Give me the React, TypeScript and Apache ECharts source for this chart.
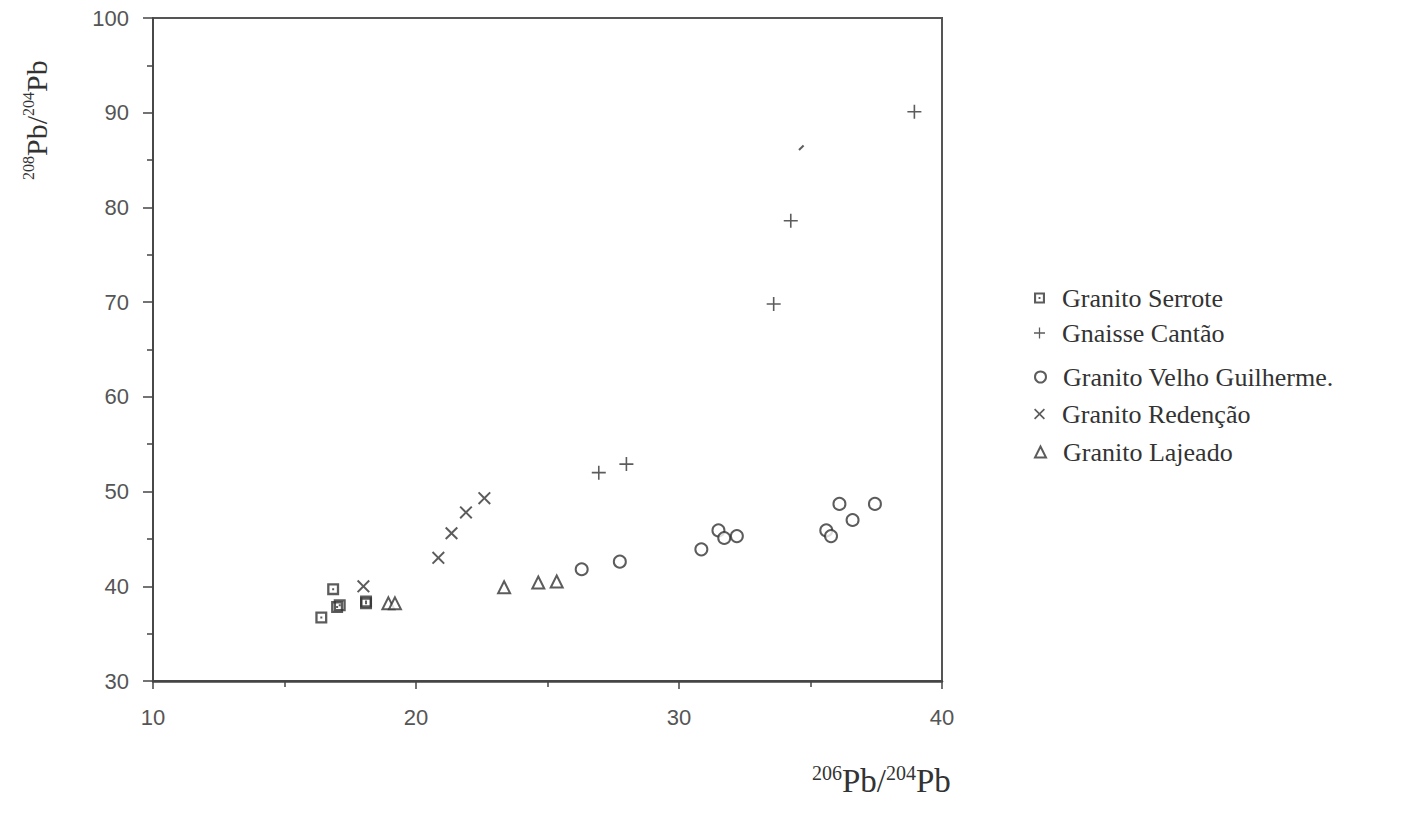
import React, { useEffect, useRef } from "react";
import * as echarts from "echarts";

// Data (206Pb/204Pb, 208Pb/204Pb)
const serrote: [number, number][] = [
  [16.4, 36.7], [16.85, 39.7], [17.0, 37.8], [17.1, 38.0], [18.1, 38.4], [18.1, 38.2],
];
const cantao: [number, number][] = [
  [26.95, 52.0], [28.0, 52.9], [33.6, 69.8], [34.25, 78.6], [38.95, 90.1],
];
const cantaoPartial: [number, number][] = [[34.65, 86.3]];
const velhoGuilherme: [number, number][] = [
  [26.3, 41.8], [27.75, 42.6], [30.85, 43.9], [31.5, 45.9], [31.72, 45.1], [32.2, 45.3],
  [35.6, 45.9], [35.78, 45.3], [36.1, 48.7], [36.6, 47.0], [37.45, 48.7],
];
const redencao: [number, number][] = [
  [18.0, 40.0], [20.85, 43.0], [21.35, 45.6], [21.9, 47.8], [22.6, 49.3],
];
const lajeado: [number, number][] = [
  [18.95, 38.2], [19.2, 38.2], [23.35, 39.9], [24.65, 40.4], [25.35, 40.5],
];

const seriesNames = [
  "Granito Serrote",
  "Gnaisse Cantão",
  "Granito Velho Guilherme.",
  "Granito Redenção",
  "Granito Lajeado",
];
const legendCenters = [293, 328, 372, 409, 447];

const xTicks = { min: 10, max: 40, interval: 10 };
const yTicks = { min: 30, max: 100, interval: 10 };

const INK = "#333";
const SQUARE_DOT = "path://M0,0H12V12H0Z M2.3,2.3V9.7H9.7V2.3Z M5,5H7V7H5Z";
const PLUS = "path://M0,6.2H14V7.8H0Z M6.2,0H7.8V14H6.2Z";
const CROSS =
  "path://M1.5,0 L7,5.5 L12.5,0 L14,1.5 L8.5,7 L14,12.5 L12.5,14 L7,8.5 L1.5,14 L0,12.5 L5.5,7 L0,1.5 Z";
const SLASH = "path://M0,4 L4,0 L5.2,1.2 L1.2,5.2 Z";

export default function App() {
  const ref = useRef<HTMLDivElement>(null);

  useEffect(() => {
    if (!ref.current) return;
    const chart = echarts.init(ref.current, null, { renderer: "svg" });

    const legends = seriesNames.map((name, i) => ({
      show: true,
      data: [name],
      orient: "vertical",
      left: 1029,
      top: legendCenters[i] - 15,
      itemWidth: 11,
      itemHeight: 11,
      itemGap: 0,
      selectedMode: false,
      textStyle: {
        fontFamily: "Liberation Serif",
        fontSize: 26,
        color: "#333",
        lineHeight: 30,
        padding: [0, 0, 0, 12],
      },
    }));

    const option: any = {
      animation: false,
      backgroundColor: "#fff",
      grid: {
        left: 153,
        top: 18,
        width: 789,
        height: 663,
        show: true,
        borderColor: "#555",
        borderWidth: 2,
        containLabel: false,
      },
      legend: legends,
      xAxis: {
        type: "value",
        min: xTicks.min,
        max: xTicks.max,
        interval: xTicks.interval,
        axisLine: { show: true, lineStyle: { color: "#444", width: 2.5 } },
        axisTick: { show: true, inside: false, length: 8, lineStyle: { color: "#444", width: 1.5 } },
        minorTick: { show: true, splitNumber: 2, length: 6, lineStyle: { color: "#444", width: 1.5 } },
        splitLine: { show: false },
        axisLabel: {
          margin: 25,
          fontFamily: "Liberation Sans",
          fontSize: 22,
          color: "#555",
        },
      },
      yAxis: {
        type: "value",
        min: yTicks.min,
        max: yTicks.max,
        interval: yTicks.interval,
        axisLine: { show: true, lineStyle: { color: "#444", width: 1.5 } },
        axisTick: { show: true, inside: false, length: 10, lineStyle: { color: "#444", width: 1.5 } },
        minorTick: { show: true, splitNumber: 2, length: 6, lineStyle: { color: "#444", width: 1.5 } },
        splitLine: { show: false },
        axisLabel: {
          margin: 24,
          fontFamily: "Liberation Sans",
          fontSize: 22,
          color: "#555",
        },
      },
      series: [
        {
          name: seriesNames[0],
          type: "scatter",
          data: serrote,
          symbol: SQUARE_DOT,
          symbolSize: 12,
          itemStyle: { color: INK },
        },
        {
          name: seriesNames[1],
          type: "scatter",
          data: cantao,
          symbol: PLUS,
          symbolSize: 14,
          itemStyle: { color: INK },
        },
        {
          name: seriesNames[2],
          type: "scatter",
          data: velhoGuilherme,
          symbol: "emptyCircle",
          symbolSize: 12,
          itemStyle: { color: INK, borderColor: INK, borderWidth: 2.4 },
        },
        {
          name: seriesNames[3],
          type: "scatter",
          data: redencao,
          symbol: CROSS,
          symbolSize: 13,
          itemStyle: { color: INK },
        },
        {
          name: seriesNames[4],
          type: "scatter",
          data: lajeado,
          symbol: "emptyTriangle",
          symbolSize: 12,
          itemStyle: { color: INK, borderColor: INK, borderWidth: 2.6 },
        },
        {
          name: "partial",
          type: "scatter",
          data: cantaoPartial,
          symbol: SLASH,
          symbolSize: 6,
          itemStyle: { color: INK },
        },
      ],
      graphic: [
        {
          type: "text",
          x: 20,
          y: 180,
          rotation: Math.PI / 2,
          style: {
            text: "{s|208}{n|Pb/}{s|204}{n|Pb}",
            fill: "#333",
            rich: {
              s: { fontFamily: "Liberation Serif", fontSize: 16, verticalAlign: "top", fill: "#333", lineHeight: 31 },
              n: { fontFamily: "Liberation Serif", fontSize: 30, verticalAlign: "bottom", fill: "#333", lineHeight: 31 },
            },
          },
        },
        {
          type: "text",
          x: 812,
          y: 763,
          style: {
            text: "{s|206}{n|Pb/}{s|204}{n|Pb}",
            fill: "#333",
            rich: {
              s: { fontFamily: "Liberation Serif", fontSize: 20, verticalAlign: "top", fill: "#333", lineHeight: 34 },
              n: { fontFamily: "Liberation Serif", fontSize: 33, verticalAlign: "bottom", fill: "#333", lineHeight: 34 },
            },
          },
        },
      ],
    };

    chart.setOption(option);
    return () => chart.dispose();
  }, []);

  return (
    <div
      ref={ref}
      style={{ position: "fixed", left: 0, top: 0, width: 1423, height: 830, background: "#fff" }}
    />
  );
}
